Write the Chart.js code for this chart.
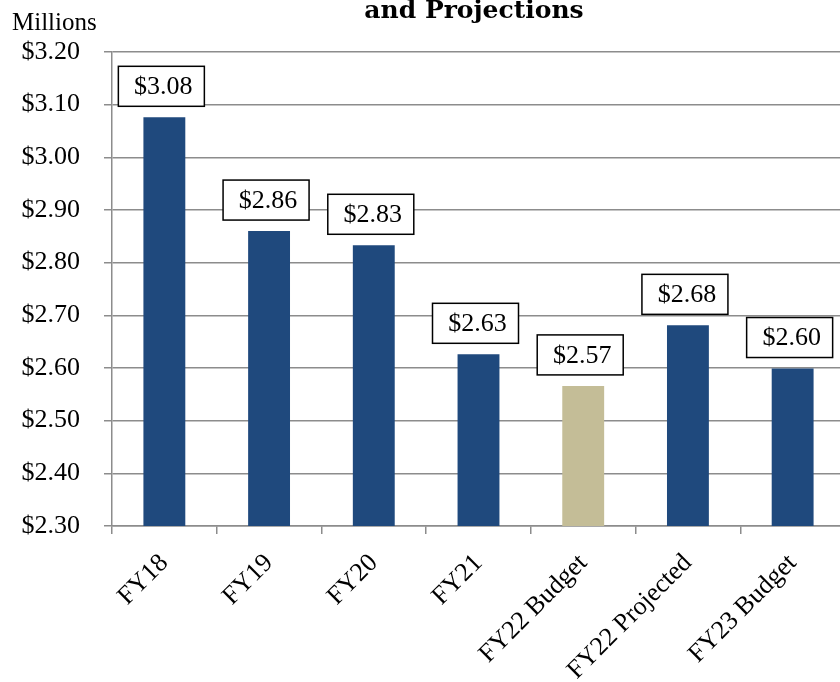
<!DOCTYPE html>
<html lang="en">
<head>
<meta charset="UTF-8">
<title>and Projections</title>
<script src="https://cdn.jsdelivr.net/npm/chart.js"></script>
<style>
  html, body { margin: 0; padding: 0; background: #fff; }
  #wrap { width: 840px; height: 682px; overflow: hidden; position: relative; }
  #chart { position: absolute; left: 0; top: 0; }
</style>
</head>
<body>
<div id="wrap">
  <canvas id="chart" width="848" height="682"></canvas>
</div>
<script>
// data (millions of dollars)
var categories = ["FY18", "FY19", "FY20", "FY21", "FY22 Budget", "FY22 Projected", "FY23 Budget"];
var values = [3.076, 2.860, 2.833, 2.626, 2.566, 2.681, 2.599];
var barColors = ["#1f497d", "#1f497d", "#1f497d", "#1f497d", "#c4bd97", "#1f497d", "#1f497d"];
var yMin = 2.3, yMax = 3.2, yStep = 0.1;

var serif = "'Liberation Serif', 'Times New Roman', serif";

// title (its first line is cut off in the original) and the "Millions" unit
var textPlugin = {
    id: 'extraText',
    afterDraw: function (chart) {
        var ctx = chart.ctx;
        ctx.save();
        ctx.fillStyle = '#000';
        ctx.textBaseline = 'alphabetic';
        ctx.font = "bold 25px 'DejaVu Serif', serif";
        ctx.textAlign = 'center';
        ctx.fillText('and Projections', 474, 18);
        ctx.font = "25px " + serif;
        ctx.textAlign = 'left';
        ctx.fillText('Millions', 12, 30);
        ctx.restore();
    }
};

// boxed value labels above bars
var boxLabels = {
    id: 'boxLabels',
    afterDatasetsDraw: function (chart) {
        var ctx = chart.ctx;
        var meta = chart.getDatasetMeta(0);
        ctx.save();
        ctx.font = "26px " + serif;
        ctx.textAlign = 'center';
        ctx.textBaseline = 'middle';
        meta.data.forEach(function (bar, i) {
            var txt = '$' + (Math.round(values[i] * 100) / 100).toFixed(2);
            var w = 86, h = 40;
            var cx = bar.x - 3;
            var bottom = bar.y - 11;
            ctx.fillStyle = '#fff';
            ctx.fillRect(cx - w / 2, bottom - h, w, h);
            ctx.lineWidth = 1.5;
            ctx.strokeStyle = '#000';
            ctx.strokeRect(cx - w / 2, bottom - h, w, h);
            ctx.fillStyle = '#000';
            ctx.fillText(txt, cx + 2, bottom - h / 2 + 1);
        });
        ctx.restore();
    }
};

new Chart(document.getElementById('chart'), {
    type: 'bar',
    data: {
        labels: categories,
        datasets: [{
            data: values,
            backgroundColor: barColors,
            borderWidth: 0,
            barPercentage: 0.4,
            categoryPercentage: 1.0
        }]
    },
    options: {
        responsive: false,
        animation: false,
        layout: { padding: { top: 52, left: 0, right: 3, bottom: 0 } },
        plugins: {
            legend: { display: false },
            tooltip: { enabled: false }
        },
        scales: {
            x: {
                offset: true,
                grid: {
                    offset: true,
                    drawOnChartArea: false,
                    drawTicks: true,
                    tickLength: 8,
                    color: '#8c8c8c',
                    lineWidth: 1.5
                },
                border: { display: true, color: '#8c8c8c', width: 1.5 },
                ticks: {
                    color: '#000',
                    font: { family: serif, size: 26 },
                    maxRotation: 45,
                    minRotation: 45,
                    autoSkip: false,
                    padding: 14
                },
                afterFit: function (scale) { scale.height = 156; }
            },
            y: {
                min: yMin,
                max: yMax,
                grid: {
                    color: '#8c8c8c',
                    lineWidth: 1.5,
                    drawTicks: true,
                    tickLength: 8
                },
                border: { display: true, color: '#8c8c8c', width: 1.5 },
                ticks: {
                    stepSize: yStep,
                    color: '#000',
                    font: { family: serif, size: 26 },
                    padding: 24,
                    callback: function (v) { return '$' + Number(v).toFixed(2); }
                },
                afterFit: function (scale) { scale.width = 112; }
            }
        }
    },
    plugins: [textPlugin, boxLabels]
});
</script>
</body>
</html>
